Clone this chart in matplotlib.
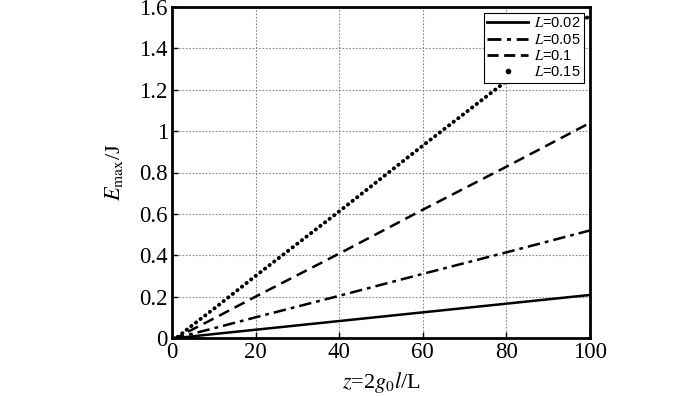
import matplotlib
matplotlib.use("Agg")
import matplotlib.pyplot as plt
from matplotlib.lines import Line2D
from matplotlib.ticker import FuncFormatter

plt.rcParams['font.family'] = ['Liberation Serif', 'DejaVu Serif']
plt.rcParams['mathtext.fontset'] = 'stix'

z = [0, 1, 2, 4, 10, 20, 40, 60, 80, 100]
E_002 = [0, 0, 0.002, 0.006, 0.019, 0.040, 0.082, 0.124, 0.166, 0.208]
E_005 = [0, 0, 0.005, 0.016, 0.047, 0.100, 0.204, 0.310, 0.414, 0.520]
E_01 = [0, 0, 0.010, 0.032, 0.094, 0.200, 0.408, 0.620, 0.828, 1.040]
E_015 = [0, 0, 0.015, 0.048, 0.141, 0.300, 0.612, 0.930, 1.242, 1.560]
labels = ["L=0.02", "L=0.05", "L=0.1", "L=0.15"]
xticks = [0, 20, 40, 60, 80, 100]
yticks = [0, 0.2, 0.4, 0.6, 0.8, 1.0, 1.2, 1.4, 1.6]

fig = plt.figure(figsize=(7, 3.96), dpi=100)
ax = fig.add_axes([172/700, 1-338/396, (590-172)/700, (338-7)/396])

ax.plot(z, E_002, color='black', lw=1.8, ls='-')
ax.plot(z, E_005, color='black', lw=1.8, ls=(0, (5, 2, 1.5, 2)))
ax.plot(z, E_01, color='black', lw=1.8, ls=(0, (4.5, 2.5)))
ax.plot(z, E_015, color='black', lw=2.8, ls=(0, (0.1, 1.4)), dash_capstyle='round')

ax.set_xlim(0, 100)
ax.set_ylim(0, 1.6)
ax.set_xticks(xticks)
ax.set_yticks(yticks)
ax.yaxis.set_major_formatter(FuncFormatter(lambda v, p: f"{v:g}"))
ax.tick_params(direction='in', length=4, width=1, labelsize=16.5, pad=3)
for s in ax.spines.values():
    s.set_linewidth(2)
ax.grid(True, color='#888888', ls=(0, (1.5, 1.5)), lw=0.8)

ax.set_xlabel(r"$z$=2$g_{0}l$/L", fontsize=16, labelpad=5)
ax.set_ylabel(r"$E_{\mathrm{max}}$/J", fontsize=16, labelpad=10)

handles = [
    Line2D([], [], color='black', lw=2, ls='-'),
    Line2D([], [], color='black', lw=2, ls=(0, (5, 2, 1.5, 2))),
    Line2D([], [], color='black', lw=2, ls=(0, (4, 2))),
    Line2D([], [], color='black', lw=0, marker='o', markersize=3),
]
leg_labels = [r"$L$" + "=" + t.split("=")[1] for t in labels]
leg = ax.legend(handles, leg_labels, loc='upper right',
                prop={'family': 'Liberation Sans', 'size': 10.5},
                frameon=True, fancybox=False, edgecolor='black', framealpha=1,
                handlelength=2.8, borderpad=0.25, labelspacing=0.15,
                handletextpad=0.4, borderaxespad=0.4)
leg.get_frame().set_linewidth(0.8)

fig.savefig("out.png", dpi=100)
